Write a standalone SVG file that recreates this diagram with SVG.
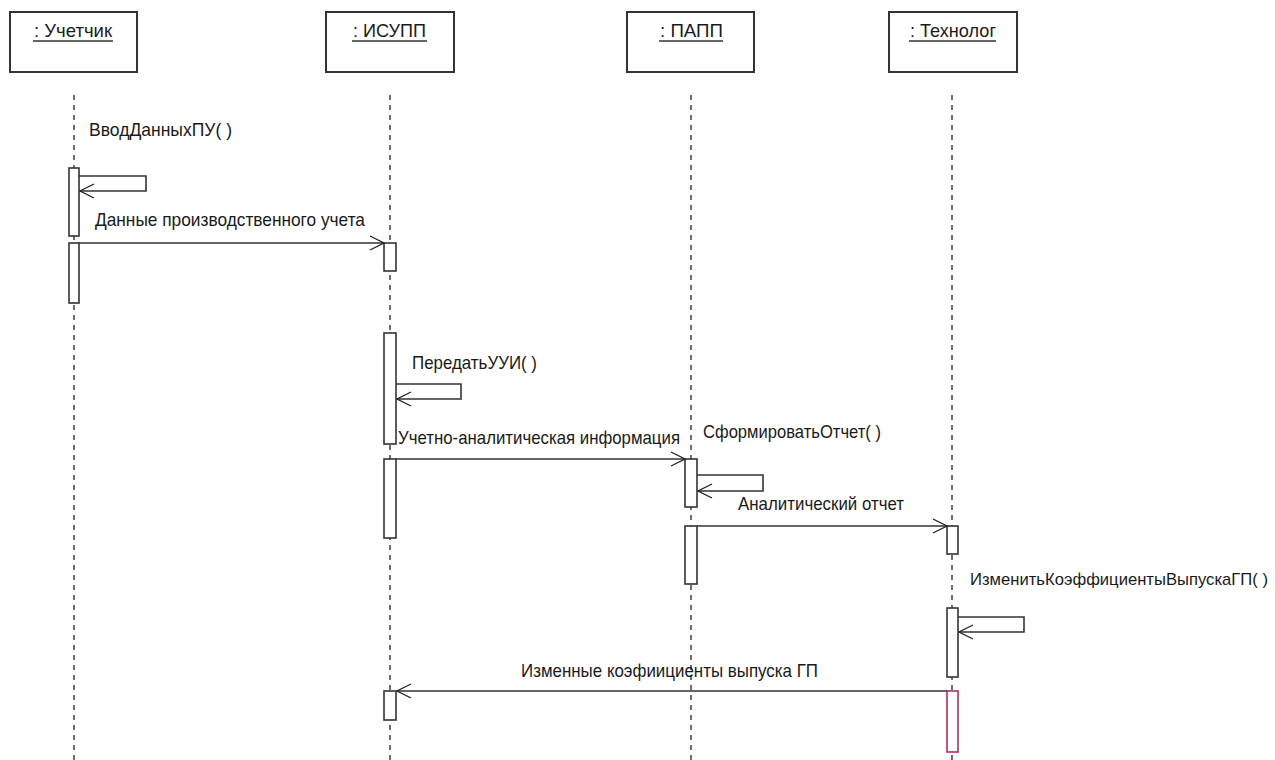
<svg xmlns="http://www.w3.org/2000/svg" width="1275" height="760" viewBox="0 0 1275 760">
  <style>
    .obj { fill: #ffffff; stroke: #333333; stroke-width: 2; }
    .life { stroke: #222222; stroke-width: 1.3; stroke-dasharray: 5 5; fill: none; }
    .act { fill: #ffffff; stroke: #333333; stroke-width: 1.6; }
    .act-hi { fill: #ffffff; stroke: #b0305a; stroke-width: 1.6; }
    .msg { stroke: #333333; stroke-width: 1.6; fill: none; }
    .lbl { font-family: "Liberation Sans", Arial, sans-serif; font-size: 19px; fill: #1a1a1a; }
    .lbl-sm { font-family: "Liberation Sans", Arial, sans-serif; font-size: 17px; fill: #1a1a1a; }
    .title { font-family: "Liberation Sans", Arial, sans-serif; font-size: 19px; fill: #1a1a1a; }
    .ul { stroke: #333333; stroke-width: 1.4; }
  </style>
  <defs>
    <marker id="open" markerWidth="16" markerHeight="16" refX="15" refY="8" orient="auto" markerUnits="userSpaceOnUse">
      <path d="M1,1 L15,8 L1,15" fill="none" stroke="#222222" stroke-width="1.3"/>
    </marker>
  </defs>

  <rect width="1275" height="760" fill="#ffffff"/>

  <!-- lifelines -->
  <g id="lifelines">
    <line class="life" x1="74" y1="95" x2="74" y2="760"/>
    <line class="life" x1="390" y1="95" x2="390" y2="760"/>
    <line class="life" x1="691" y1="95" x2="691" y2="760"/>
    <line class="life" x1="952" y1="95" x2="952" y2="760"/>
  </g>

  <!-- objects -->
  <g id="obj-uchetchik">
    <rect class="obj" x="10" y="12" width="127" height="60"/>
    <text class="title" x="34" y="37" textLength="78" lengthAdjust="spacingAndGlyphs">: Учетчик</text>
    <line class="ul" x1="33" y1="41" x2="113" y2="41"/>
    <rect class="act" x="69" y="168" width="10" height="68"/>
    <rect class="act" x="69" y="243" width="10" height="60"/>
  </g>

  <g id="obj-isupp">
    <rect class="obj" x="326" y="12" width="128" height="60"/>
    <text class="title" x="353" y="37" textLength="73" lengthAdjust="spacingAndGlyphs">: ИСУПП</text>
    <line class="ul" x1="352" y1="41" x2="427" y2="41"/>
    <rect class="act" x="384" y="243" width="12" height="28"/>
    <rect class="act" x="384" y="333" width="12" height="111"/>
    <rect class="act" x="384" y="459" width="12" height="79"/>
    <rect class="act" x="384" y="691" width="12" height="29"/>
  </g>

  <g id="obj-papp">
    <rect class="obj" x="627" y="12" width="127" height="60"/>
    <text class="title" x="660" y="37" textLength="63" lengthAdjust="spacingAndGlyphs">: ПАПП</text>
    <line class="ul" x1="659" y1="41" x2="723" y2="41"/>
    <rect class="act" x="685" y="459" width="12" height="48"/>
    <rect class="act" x="685" y="526" width="12" height="58"/>
  </g>

  <g id="obj-tekhnolog">
    <rect class="obj" x="889" y="12" width="128" height="60"/>
    <text class="title" x="910" y="37" textLength="86" lengthAdjust="spacingAndGlyphs">: Технолог</text>
    <line class="ul" x1="909" y1="41" x2="996" y2="41"/>
    <rect class="act" x="947" y="526" width="11" height="28"/>
    <rect class="act" x="947" y="608" width="11" height="69"/>
    <rect class="act-hi" x="947" y="691" width="11" height="61"/>
  </g>

  <!-- messages -->
  <g id="connectors">
    <path class="msg" d="M79,176 H146 V191 H80" marker-end="url(#open)"/>
    <line class="msg" x1="79" y1="243" x2="384" y2="243" marker-end="url(#open)"/>
    <path class="msg" d="M396,384 H461 V399 H397" marker-end="url(#open)"/>
    <line class="msg" x1="396" y1="459" x2="685" y2="459" marker-end="url(#open)"/>
    <path class="msg" d="M697,475 H763 V491 H698" marker-end="url(#open)"/>
    <line class="msg" x1="697" y1="526" x2="947" y2="526" marker-end="url(#open)"/>
    <path class="msg" d="M958,617 H1024 V632 H959" marker-end="url(#open)"/>
    <line class="msg" x1="947" y1="691" x2="397" y2="691" marker-end="url(#open)"/>
  </g>

  <!-- message labels -->
  <g id="labels">
    <text class="lbl" x="89" y="136" textLength="143" lengthAdjust="spacingAndGlyphs">ВводДанныхПУ( )</text>
    <text class="lbl" x="95" y="226" textLength="270" lengthAdjust="spacingAndGlyphs">Данные производственного учета</text>
    <text class="lbl" x="412" y="369" textLength="125" lengthAdjust="spacingAndGlyphs">ПередатьУУИ( )</text>
    <text class="lbl" x="398" y="444" textLength="282" lengthAdjust="spacingAndGlyphs">Учетно-аналитическая информация</text>
    <text class="lbl" x="703" y="438" textLength="178" lengthAdjust="spacingAndGlyphs">СформироватьОтчет( )</text>
    <text class="lbl" x="738" y="510" textLength="166" lengthAdjust="spacingAndGlyphs">Аналитический отчет</text>
    <text class="lbl-sm" x="970" y="585" textLength="298" lengthAdjust="spacingAndGlyphs">ИзменитьКоэффициентыВыпускаГП( )</text>
    <text class="lbl" x="521" y="677" textLength="297" lengthAdjust="spacingAndGlyphs">Изменные коэфиициенты выпуска ГП</text>
  </g>
</svg>
